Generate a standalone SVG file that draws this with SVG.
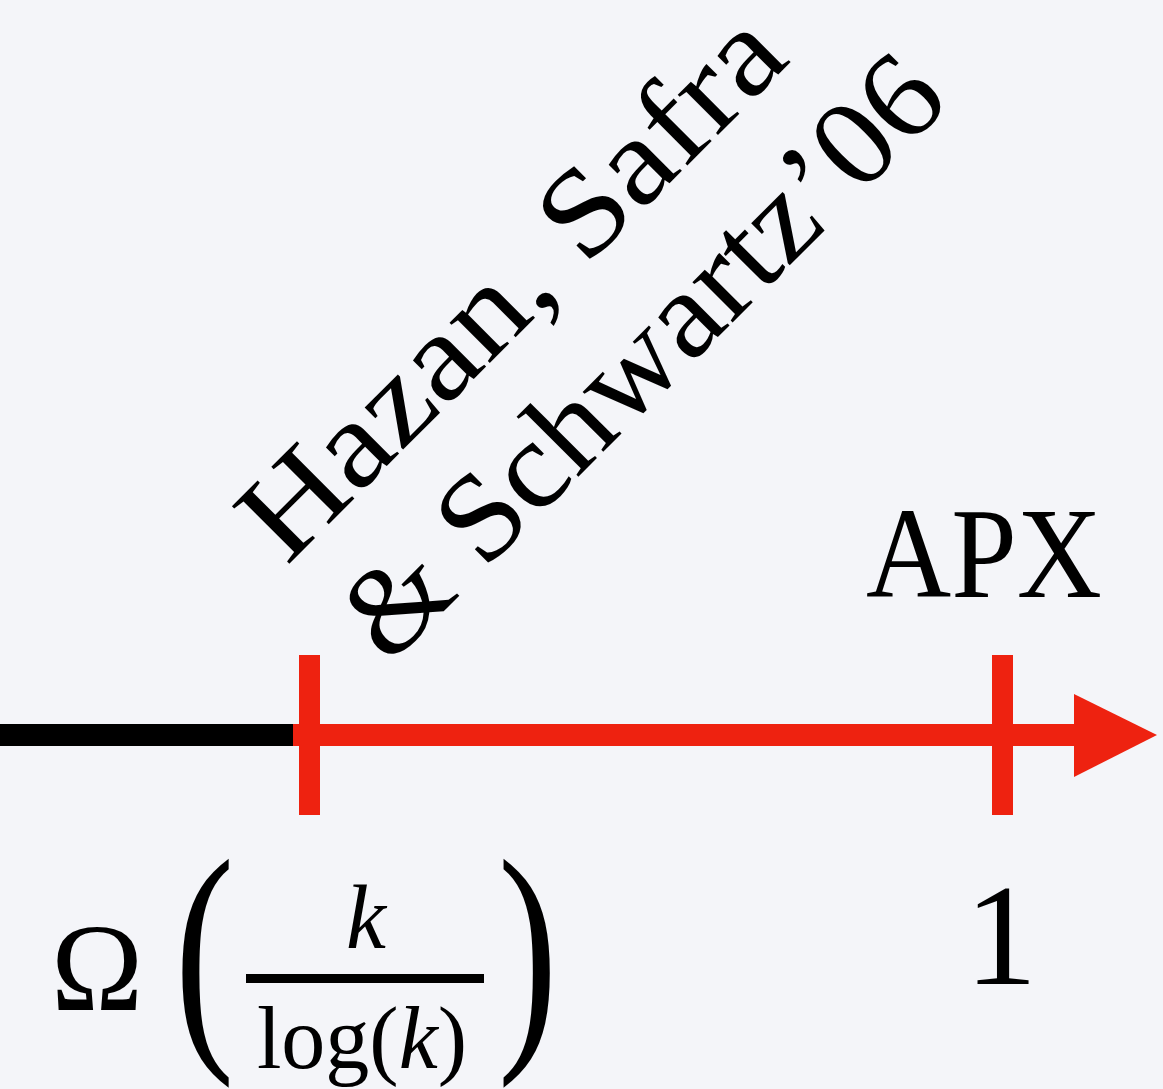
<svg xmlns="http://www.w3.org/2000/svg" width="1163" height="1089" viewBox="0 0 1163 1089">
  <style>
    .serif { font-family: "Liberation Serif", "Times New Roman", serif; fill: #000; }
    .red { fill: #ee2210; }
    .it { font-style: italic; }
  </style>
  <rect x="0" y="0" width="1163" height="1089" fill="#f4f5f9"/>

  <g id="connectors">
    <rect id="axis-black" x="0" y="724" width="295" height="22" fill="#000"/>
    <rect id="axis-red" class="red" x="293" y="724" width="784" height="22"/>
    <polygon id="axis-arrow" class="red" points="1074,694 1157,735 1074,777"/>
  </g>

  <g id="tick-hazan">
    <rect class="red" x="299" y="655" width="21" height="160"/>
  </g>
  <g id="tick-apx">
    <rect class="red" x="992" y="655" width="21" height="160"/>
  </g>

  <g id="label-hazan" transform="rotate(-45)">
    <text class="serif" x="-198" y="603" font-size="124" textLength="715" lengthAdjust="spacingAndGlyphs">Hazan, Safra</text>
    <text class="serif" x="-196" y="746" font-size="124" textLength="796" lengthAdjust="spacingAndGlyphs">&amp; Schwartz’06</text>
  </g>

  <g id="label-apx">
    <text class="serif" x="866" y="597" font-size="130" textLength="236" lengthAdjust="spacingAndGlyphs">APX</text>
  </g>

  <g id="label-one">
    <text class="serif" x="1001" y="984" font-size="145" text-anchor="middle">1</text>
  </g>

  <g id="label-omega">
    <text class="serif" x="51" y="1010" font-size="124">Ω</text>
    <text class="serif" transform="translate(174.4,1034) scale(1,1.40)" font-size="180">(</text>
    <text class="serif it" x="366" y="948" font-size="90" text-anchor="middle">k</text>
    <rect x="246" y="974" width="238" height="9" fill="#000"/>
    <text class="serif" x="362" y="1068" font-size="88" text-anchor="middle">log(<tspan class="it">k</tspan>)</text>
    <text class="serif" transform="translate(497.8,1034) scale(1,1.40)" font-size="180">)</text>
  </g>
</svg>
